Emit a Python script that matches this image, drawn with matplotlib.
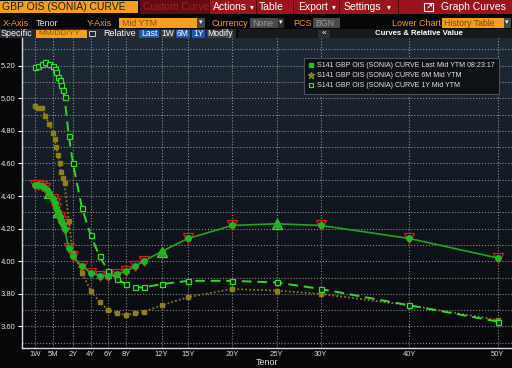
import numpy as np
import matplotlib
matplotlib.use('Agg')
import matplotlib.pyplot as plt
from matplotlib.patches import Rectangle
from matplotlib.lines import Line2D
from matplotlib.colors import LinearSegmentedColormap

plt.rcParams['font.family'] = ['Liberation Sans', 'DejaVu Sans']

W, H = 512, 368

# curve points (tenor in years)
tenors = [1/52, 1/12, 2/12, 3/12, 4/12, 5/12, 6/12, 7/12, 8/12, 9/12, 10/12, 11/12,
          1, 1.5, 2, 3, 4, 5, 6, 7, 8, 9, 10, 12, 15, 20, 25, 30, 40, 50]
last_ytm = [4.47, 4.47, 4.46, 4.45, 4.42, 4.38, 4.36, 4.33, 4.30, 4.27, 4.25, 4.23,
            4.20, 4.08, 4.03, 3.97, 3.93, 3.91, 3.91, 3.92, 3.94, 3.97, 4.00, 4.06,
            4.14, 4.22, 4.23, 4.22, 4.14, 4.02]
ytm_6m = [4.95, 4.94, 4.94, 4.89, 4.84, 4.79, 4.75, 4.70, 4.65, 4.60, 4.55, 4.51,
          4.48, 4.25, 4.05, 3.93, 3.82, 3.75, 3.70, 3.68, 3.67, 3.68, 3.69, 3.73,
          3.78, 3.83, 3.82, 3.80, 3.73, 3.64]
ytm_1y = [5.19, 5.20, 5.21, 5.22, 5.21, 5.20, 5.18, 5.16, 5.13, 5.11, 5.08, 5.05,
          5.01, 4.77, 4.60, 4.33, 4.16, 4.03, 3.94, 3.89, 3.86, 3.84, 3.84, 3.86,
          3.88, 3.88, 3.87, 3.83, 3.73, 3.63]
# direction of change markers on the Last curve
last_change = ['d', 'd', 'd', 'd', 'u', 'd', 'd', 'd', 'u', 'd', 'd', 'd',
               'd', 'd', 'd', 'd', 'd', 'd', 'd', 'd', 'd', 'd', 'd', 'u',
               'd', 'd', 'u', 'd', 'd', 'd']

tick_labels = ['1W', '5M', '2Y', '4Y', '6Y', '8Y', '12Y', '15Y', '20Y', '25Y', '30Y', '40Y', '50Y']
tick_years = [1/52, 5/12, 2, 4, 6, 8, 12, 15, 20, 25, 30, 40, 50]

legend_labels = ['S141 GBP OIS (SONIA) CURVE Last Mid YTM 08:23:17',
                 'S141 GBP OIS (SONIA) CURVE 6M Mid YTM',
                 'S141 GBP OIS (SONIA) CURVE 1Y Mid YTM']

# stretched short end, like the terminal's tenor axis
scale_t = [-0.5, 1/52, 5/12, 1.0, 2.0, 60.0]
scale_u = [20.0, 35.0, 53.0, 64.5, 73.0, 73.0 + 58 * 8.85]


def fwd(t):
    return np.interp(t, scale_t, scale_u)


def inv(u):
    return np.interp(u, scale_u, scale_t)


fig = plt.figure(figsize=(W / 100, H / 100), dpi=100, facecolor='#060708')


def px_box(x0, y0, x1, y1, color, ec='none', lw=0.6):
    fig.add_artist(Rectangle((x0 / W, 1 - y1 / H), (x1 - x0) / W, (y1 - y0) / H,
                             transform=fig.transFigure, facecolor=color, edgecolor=ec, lw=lw))


def px_text(x, y, s, color='white', size=6.5, ha='left', weight='normal'):
    fig.text(x / W, 1 - y / H, s, color=color, fontsize=size, ha=ha, va='center',
             fontweight=weight)


ORANGE = '#f5a01c'

# --- row 1: title + menu bar
px_box(0, 1, 138, 13, ORANGE)
px_text(2, 7.3, 'GBP OIS (SONIA) CURVE', color='#1a1a1a', size=7.5)
px_box(140, 0, 209, 14, '#640b12')
px_text(143, 7.3, 'Custom Curve', color='#9c212b', size=7.5)
px_box(210, 0, 512, 14, '#9a1420')
for sx in [256, 293, 339, 398]:
    px_box(sx, 0, sx + 1, 14, '#4a070c')
px_text(213, 7.3, 'Actions', size=7.5)
px_text(250, 7.3, '▾', size=5.5)
px_text(259, 7.3, 'Table', size=7.5)
px_text(298, 7.3, 'Export', size=7.5)
px_text(332, 7.3, '▾', size=5.5)
px_text(344, 7.3, 'Settings', size=7.5)
px_text(387, 7.3, '▾', size=5.5)
px_box(424, 3, 433, 11, 'none', ec='white', lw=0.8)
px_text(426, 6.5, '↗', size=6, weight='bold')
px_text(441, 7.3, 'Graph Curves', size=7.5)

# --- row 2: axis selectors
r2 = 23
px_text(3, r2, 'X-Axis', color=ORANGE)
px_text(36, r2, 'Tenor', color='#e4e4e4')
px_text(87, r2, 'Y-Axis', color=ORANGE)
px_box(119, 18, 197, 28, ORANGE)
px_text(122, r2, 'Mid YTM', color='#8a5200', size=6.3)
px_box(197, 18, 205, 28, '#474747')
px_text(198.5, r2, '▾', size=5)
px_text(212, r2, 'Currency', color=ORANGE)
px_box(250, 18, 278, 28, '#4a4a4a')
px_text(252, r2, 'None', color='#9a9a9a', size=6.3)
px_box(278, 18, 284, 28, '#2e2e2e')
px_text(278.5, r2, '▾', size=5)
px_text(293, r2, 'PCS', color=ORANGE)
px_box(313, 18, 340, 28, '#4a4a4a')
px_text(315, r2, 'BGN', color='#9a9a9a', size=6.3)
px_text(392, r2, 'Lower Chart', color=ORANGE)
px_box(442, 18, 504, 28, ORANGE)
px_text(444, r2, 'History Table', color='#7a4500', size=6.3)
px_box(504, 18, 511, 28, '#474747')
px_text(505, r2, '▾', size=5)

# --- row 3: relative buttons
r3 = 33.8
px_box(0, 29, 236, 38, '#25292d')
px_text(1, r3, 'Specific', size=6.5)
px_box(36, 29.5, 87, 37.5, ORANGE)
px_text(38, r3, 'MM/DD/YY', color='#8a5a10', size=6)
px_box(89, 31, 95, 36, 'none', ec='#cfcfcf', lw=0.7)
px_text(103, r3, 'Relative', size=6.5)
for bx0, bx1, lab, col in [(139, 159, 'Last', '#1f56ae'), (161, 174, '1W', '#3a3d40'),
                           (176, 190, '6M', '#1f56ae'), (192, 205, '1Y', '#1f56ae'),
                           (207, 233, 'Modify', '#3a3d40')]:
    px_box(bx0, 29.5, bx1, 37.5, col)
    px_text((bx0 + bx1) / 2, r3, lab, size=6.2, ha='center')
px_box(238, 29, 512, 38, '#17191b')
px_box(318, 29.5, 330, 37.5, '#2c2f32')
px_text(324, r3, '«', size=6, ha='center')
px_text(419, r3, 'Curves & Relative Value', size=5.6, ha='center', weight='bold')

# --- plot area
pos = [22 / W, (H - 348) / H, 490 / W, 310 / H]
bg = fig.add_axes(pos, zorder=0)
grad = np.linspace(1, 0, 200).reshape(-1, 1)
cmap = LinearSegmentedColormap.from_list('bbg', ['#07080a', '#121922', '#1f2a36'])
bg.imshow(grad, aspect='auto', cmap=cmap, extent=[0, 1, 0, 1])
bg.axis('off')

ax = fig.add_axes(pos, zorder=1)
ax.patch.set_alpha(0)
ax.set_xscale('function', functions=(fwd, inv))

t = np.array(tenors)
v = np.array(last_ytm)
up = np.array([c == 'u' for c in last_change])
ax.plot(t[~up], v[~up], ls='none', marker='v', ms=7, mfc='none', mec='#e31a1a',
        mew=0.9, zorder=3)
ax.plot(t[up], v[up], ls='none', marker='^', ms=7, mfc='#1c8f1c', mec='#35d635',
        mew=0.9, zorder=3)

ax.plot(tenors, ytm_6m, ls=(0, (1, 1.2)), color='#8a7914', lw=1.3, marker='s', ms=3,
        mfc='#8f7e1c', mec='#8f7e1c', zorder=4)
ax.plot(tenors, ytm_1y, ls=(0, (5, 3)), color='#2ed82e', lw=1.4, marker='s', ms=3.6,
        mfc='#0c1a10', mec='#30e030', mew=0.9, zorder=5)
ax.plot(tenors, last_ytm, ls='-', color='#1ea61e', lw=1.2, marker='o', ms=4,
        mfc='#22b422', mec='#22b422', zorder=6)

ax.set_xlim(inv(22), inv(512))
ax.set_ylim(3.468, 5.37)

ax.set_xticks(tick_years)
ax.set_xticklabels(tick_labels)
ax.xaxis.set_minor_locator(matplotlib.ticker.NullLocator())
ax.set_yticks(np.round(np.arange(3.6, 5.21, 0.2), 2))
ax.set_yticks(np.round(np.arange(3.5, 5.35, 0.1), 2), minor=True)
ax.yaxis.set_major_formatter(matplotlib.ticker.FormatStrFormatter('%.2f'))

ax.tick_params(axis='x', length=0, pad=2, labelsize=5.5, labelcolor='#dcdcdc')
ax.tick_params(axis='y', which='major', length=3, width=0.8, color='white', pad=1.5,
               labelsize=5.5, labelcolor='#e8e8e8')
ax.tick_params(axis='y', which='minor', length=0)
ax.grid(True, which='both', ls=':', color='#a4aab0', lw=0.8, alpha=0.8)
ax.set_axisbelow(True)

for side in ['top', 'right']:
    ax.spines[side].set_visible(False)
for side in ['left', 'bottom']:
    ax.spines[side].set_color('#d8d8d8')
    ax.spines[side].set_linewidth(1.0)

ax.set_xlabel('Tenor', color='#e0e0e0', fontsize=6.5, labelpad=0.5)

handles = [
    Line2D([], [], ls='none', marker='s', ms=3.2, mfc='#22c022', mec='#22c022'),
    Line2D([], [], ls='none', marker='*', ms=4.5, mfc='#8f7e1c', mec='#8f7e1c'),
    Line2D([], [], ls='none', marker='s', ms=3.2, mfc='none', mec='#30e030', mew=0.9),
]
leg = ax.legend(handles, legend_labels, loc='upper left',
                bbox_to_anchor=((304 - 22) / 490, (348 - 58) / 310),
                fontsize=5, labelcolor='#e6e6e6', frameon=True, fancybox=False,
                facecolor='#0e1115', edgecolor='#4e545a', framealpha=1,
                handlelength=0.8, handletextpad=0.5, labelspacing=0.45,
                borderpad=0.6, borderaxespad=0)
leg.get_frame().set_linewidth(0.7)
leg.set_zorder(10)

fig.savefig('out.png', dpi=100, facecolor=fig.get_facecolor())
